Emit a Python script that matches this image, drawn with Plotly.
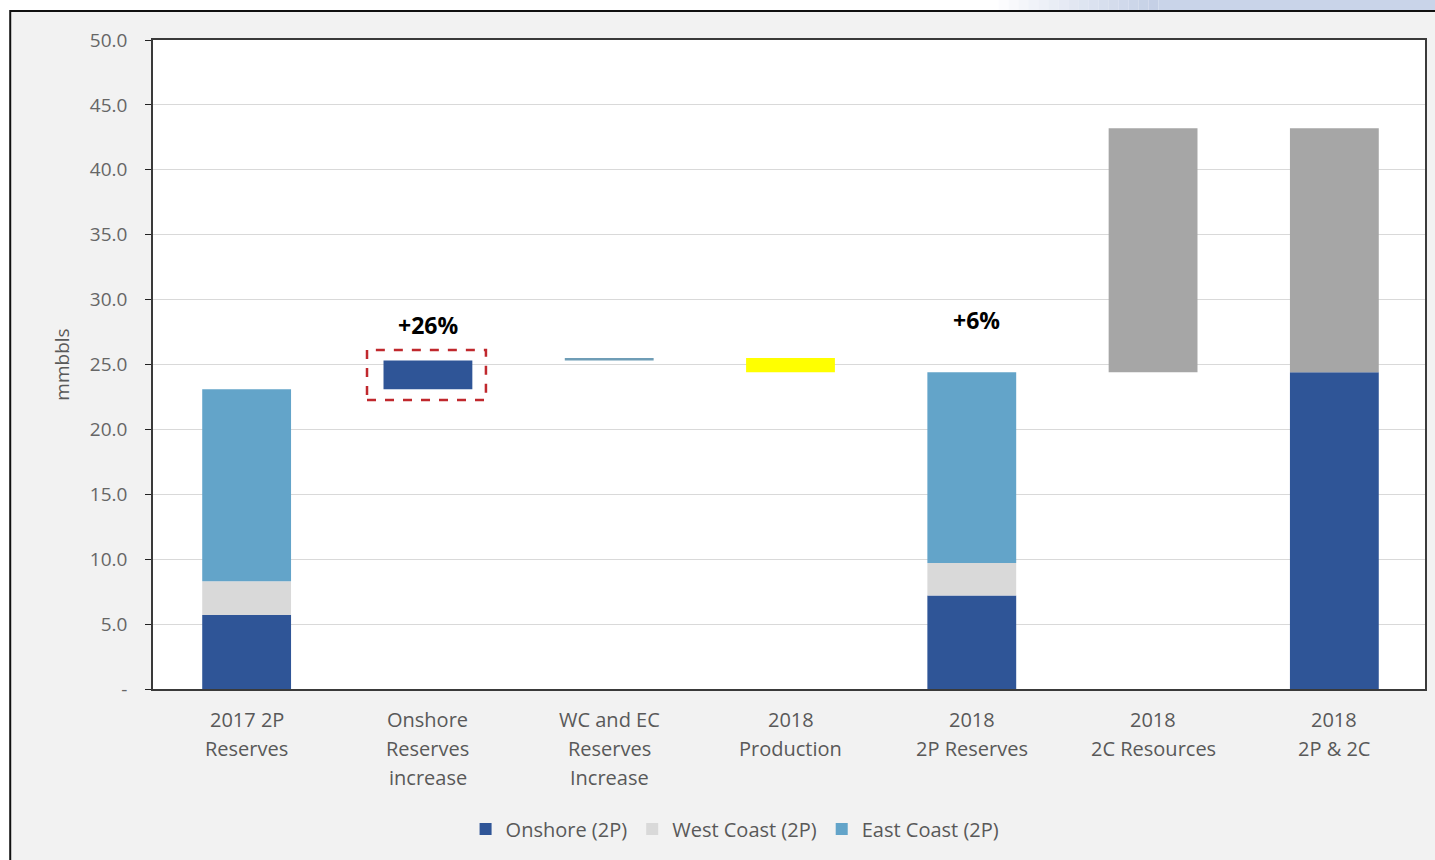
import plotly.graph_objects as go

# Reserves bridge, mmbbls
categories = [
    "2017 2P Reserves",
    "Onshore Reserves increase",
    "WC and EC Reserves Increase",
    "2018 Production",
    "2018 2P Reserves",
    "2018 2C Resources",
    "2018 2P & 2C",
]
category_lines = [
    ["2017 2P", "Reserves"],
    ["Onshore", "Reserves", "increase"],
    ["WC and EC", "Reserves", "Increase"],
    ["2018", "Production"],
    ["2018", "2P Reserves"],
    ["2018", "2C Resources"],
    ["2018", "2P & 2C"],
]

onshore_2p = [5.7, None, None, None, 7.2, None, None]
west_coast_2p = [2.6, None, None, None, 2.5, None, None]
east_coast_2p = [14.8, None, None, None, 14.7, None, None]
onshore_increase = 2.2
wc_ec_increase = 0.2
production_2018 = -1.1
resources_2c = 18.8
pct_labels = ["+26%", None, None, None, "+6%", None, None]

y_ticks = [0, 5, 10, 15, 20, 25, 30, 35, 40, 45, 50]
y_tick_text = ["-"] + [f"{v:.1f}" for v in y_ticks[1:]]

C_ON = "#2f5597"
C_WC = "#d9d9d9"
C_EC = "#63a4c9"
C_STEP = "#6f9db6"
C_PROD = "#ffff00"
C_2C = "#a6a6a6"
GREY_TXT = "#595959"
FONT = "Open Sans"

# running totals for the bridge
total_2017 = onshore_2p[0] + west_coast_2p[0] + east_coast_2p[0]
step1_base = total_2017
step2_base = step1_base + onshore_increase
step3_top = step2_base + wc_ec_increase
total_2018 = onshore_2p[4] + west_coast_2p[4] + east_coast_2p[4]

# stacked 2P columns, with the 2018 2P total carried into the last column
onshore_vals = list(onshore_2p)
onshore_vals[6] = total_2018
wc_base = [o if w is not None else None for o, w in zip(onshore_vals, west_coast_2p)]
ec_base = [
    (o + w) if e is not None else None
    for o, w, e in zip(onshore_vals, [w or 0 for w in west_coast_2p], east_coast_2p)
]

fig = go.Figure()
fig.add_bar(x=categories, y=onshore_vals, base=[0] * 7, name="Onshore (2P)",
            marker_color=C_ON, marker_line_width=0)
fig.add_bar(x=categories, y=west_coast_2p, base=wc_base, name="West Coast (2P)",
            marker_color=C_WC, marker_line_width=0)
fig.add_bar(x=categories, y=east_coast_2p, base=ec_base, name="East Coast (2P)",
            marker_color=C_EC, marker_line_width=0)

# bridge steps
fig.add_bar(x=[categories[1]], y=[onshore_increase], base=[step1_base],
            marker_color=C_ON, marker_line_width=0, showlegend=False)
fig.add_bar(x=[categories[2]], y=[wc_ec_increase], base=[step2_base],
            marker_color=C_STEP, marker_line_width=0, showlegend=False)
fig.add_bar(x=[categories[3]], y=[production_2018], base=[step3_top],
            marker_color=C_PROD, marker_line_width=0, showlegend=False)
fig.add_bar(x=[categories[5], categories[6]], y=[resources_2c, resources_2c],
            base=[total_2018, total_2018],
            marker_color=C_2C, marker_line_width=0, showlegend=False)

L, R, T, B = 153, 8, 40, 171
W, H = 1435, 860
pw, ph = W - L - R, H - T - B


def px_x(px):
    return (px - L) / pw


def px_y(py):
    return (H - B - py) / ph


shapes = [
    # outer frame
    dict(type="rect", xref="paper", yref="paper", layer="below",
         x0=px_x(10), x1=px_x(1450), y0=px_y(880), y1=px_y(11),
         fillcolor="#f2f2f2", line=dict(color="#111111", width=2)),
    # plot area fill
    dict(type="rect", xref="paper", yref="paper", layer="below",
         x0=0, x1=1, y0=0, y1=1, fillcolor="white", line=dict(width=0)),
    # highlight around the onshore increase
    dict(type="rect", xref="x", yref="y",
         x0=1 - 0.336, x1=1 + 0.32, y0=22.27, y1=26.12,
         line=dict(color="#c0282d", width=2.5, dash="dash")),
]

# header band, fading in towards the right
n_steps = 16
for i in range(n_steps):
    x0 = 1000 + i * 10
    a = (i + 1) / n_steps
    shapes.append(dict(type="rect", xref="paper", yref="paper", layer="below",
                       x0=px_x(x0), x1=px_x(x0 + 10), y0=px_y(10), y1=px_y(-2),
                       fillcolor=f"rgba(197,208,230,{a:.2f})", line=dict(width=0)))
shapes.append(dict(type="rect", xref="paper", yref="paper", layer="below",
                   x0=px_x(1160), x1=px_x(1450), y0=px_y(10), y1=px_y(-2),
                   fillcolor="#c9d4e9", line=dict(width=0)))

annotations = []
for i, lines in enumerate(category_lines):
    for j, line in enumerate(lines):
        annotations.append(dict(
            x=categories[i], xref="x", yref="paper", y=px_y(719 + 29 * j),
            text=line, showarrow=False, yanchor="middle", xanchor="center",
            font=dict(family=FONT, size=20, color=GREY_TXT)))

pct_y = {0: 28.05, 4: 28.4}
pct_shift = {0: 0, 4: 5}
for i, lab in enumerate(pct_labels):
    if lab:
        annotations.append(dict(
            x=categories[i + 1] if i == 0 else categories[i], xref="x", yref="y",
            y=pct_y[i], xshift=pct_shift[i], text=f"<b>{lab}</b>", showarrow=False,
            font=dict(family=FONT, size=23, color="black")))

annotations.append(dict(
    x=px_x(61), y=0.5, xref="paper", yref="paper", text="mmbbls",
    textangle=-90, showarrow=False, xanchor="center", yanchor="middle",
    font=dict(family=FONT, size=19, color=GREY_TXT)))

fig.update_layout(
    width=W, height=H,
    margin=dict(l=L, r=R, t=T, b=B, pad=0),
    barmode="overlay",
    bargap=0.51,
    paper_bgcolor="white",
    plot_bgcolor="rgba(0,0,0,0)",
    font=dict(family=FONT, color=GREY_TXT),
    shapes=shapes,
    annotations=annotations,
    legend=dict(orientation="h", x=px_x(736), xanchor="center",
                y=px_y(829), yanchor="middle", bgcolor="rgba(0,0,0,0)",
                font=dict(family=FONT, size=20, color=GREY_TXT),
                itemwidth=30, traceorder="normal"),
    xaxis=dict(showticklabels=False, showgrid=False, showline=True, mirror=True,
               linecolor="#3a3a3a", linewidth=1.5, ticks="", zeroline=False,
               range=[-0.5 - 3 / 181.5, 6.5]),
    yaxis=dict(range=[0, 50], tickvals=y_ticks, ticktext=y_tick_text,
               showgrid=True, gridcolor="#d9d9d9", gridwidth=1,
               showline=True, mirror=True, linecolor="#3a3a3a", linewidth=1.5,
               ticks="outside", ticklen=6, tickcolor="#222222",
               ticklabelstandoff=14, zeroline=False,
               tickfont=dict(family=FONT, size=19, color="#666666")),
)

fig.write_html("out.html")
